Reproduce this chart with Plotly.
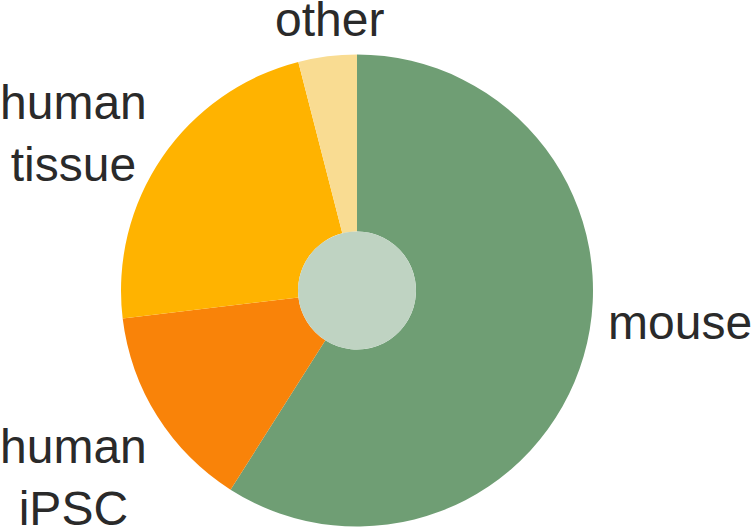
import plotly.graph_objects as go

labels = ["mouse", "human<br>iPSC", "human<br>tissue", "other"]
values = [59.0, 14.1, 22.9, 4.0]
colors = ["#6f9e74", "#f98309", "#ffb300", "#f9dc92"]
hole_color = "#bfd3c2"
# label anchor positions (paper coords, centre of text block)
label_x = [0.9007, 0.098, 0.0974, 0.4358]
label_y = [0.3871, 0.093, 0.7476, 0.963]

W, H = 755, 527
cx, cy, r = 357, 290.5, 236
hole = 0.25

dom_x = [(cx - r) / W, (cx + r) / W]
dom_y = [max(0, (H - cy - r) / H), min(1, (H - cy + r) / H)]

fig = go.Figure()
fig.add_trace(go.Pie(
    labels=labels, values=values, sort=False, direction="clockwise", rotation=0,
    marker=dict(colors=colors, line=dict(width=0)),
    textinfo="none",
    hole=hole, domain=dict(x=dom_x, y=dom_y), showlegend=False, hoverinfo="label+percent",
))
hr = r * hole
fig.add_trace(go.Pie(
    labels=["center"], values=[1], sort=False, marker=dict(colors=[hole_color], line=dict(width=0)),
    textinfo="none", hoverinfo="skip", showlegend=False,
    domain=dict(x=[(cx - hr) / W, (cx + hr) / W], y=[(H - cy - hr) / H, (H - cy + hr) / H]),
))
for lab, x, y in zip(labels, label_x, label_y):
    fig.add_annotation(text=lab, x=x, y=y, xref="paper", yref="paper", showarrow=False,
                       xanchor="center", yanchor="middle", align="center",
                       font=dict(family="Liberation Sans, Arial", size=48, color="#2a2a2a"))
fig.update_layout(width=W, height=H, margin=dict(l=0, r=0, t=0, b=0),
                  paper_bgcolor="white", plot_bgcolor="white")
fig.write_html("out.html", config={"displayModeBar": False},
               post_script="document.body.style.margin='0';")
